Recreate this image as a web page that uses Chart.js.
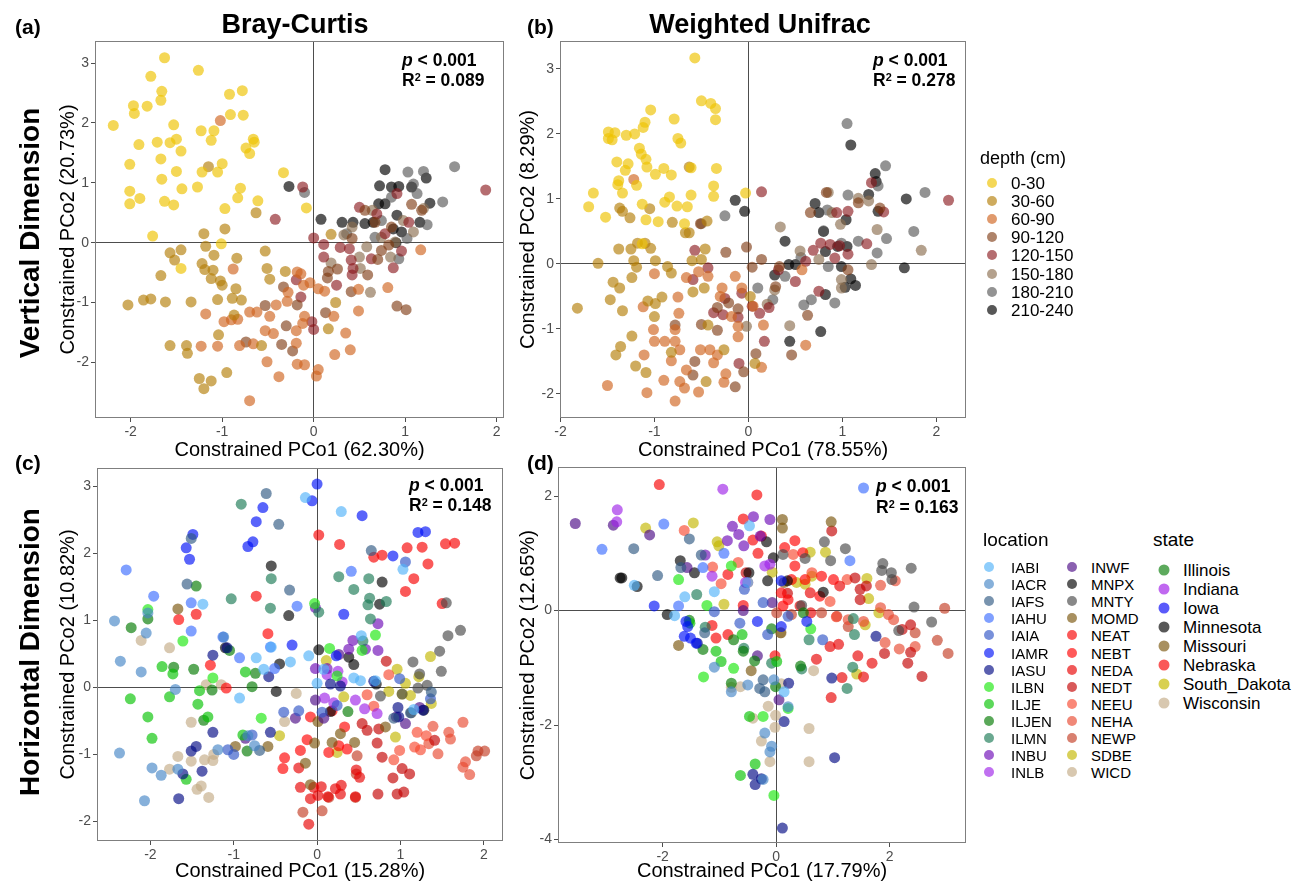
<!DOCTYPE html>
<html><head><meta charset="utf-8">
<script src="https://cdn.jsdelivr.net/npm/chart.js@4.4.1/dist/chart.umd.min.js"></script>
<style>
body{margin:0;width:1306px;height:885px;overflow:hidden;background:#fff;font-family:"Liberation Sans",Arial,sans-serif;position:relative;}
canvas{position:absolute;}
.t{position:absolute;white-space:nowrap;color:#000;line-height:1;}
.c{transform:translate(-50%,-50%);}
.l{transform:translateY(-50%);}
.r{transform:translate(-50%,-50%) rotate(-90deg);}
.b{font-weight:bold;}
.dot{position:absolute;border-radius:50%;transform:translate(-50%,-50%);}
sup{font-size:0.62em;vertical-align:0.5em;line-height:0;}
</style></head><body>
<canvas id="pa"></canvas><canvas id="pb"></canvas><canvas id="pc"></canvas><canvas id="pd"></canvas>
<div id="overlay"></div>
<script>
// ---------- categories ----------
const depthLevels = ['0-30','30-60','60-90','90-120','120-150','150-180','180-210','210-240'];
const depthColors = ['rgba(238,195,0,0.66)','rgba(180,128,10,0.66)','rgba(208,100,30,0.65)','rgba(125,55,15,0.62)','rgba(135,20,25,0.62)','rgba(140,110,80,0.65)','rgba(80,80,80,0.62)','rgba(0,0,0,0.66)'];
const locations = ['IABI','IACR','IAFS','IAHU','IAIA','IAMR','IASU','ILBN','ILJE','ILJEN','ILMN','INBU','INLB','INWF','MNPX','MNTY','MOMD','NEAT','NEBT','NEDA','NEDT','NEEU','NEHA','NEWP','SDBE','WICD'];
const locationBase = ['#52B2F9','#4586C6','#2F5983','#3C6DFF','#2F54C6','#0011F7','#010984','#1AE80D','#04C301','#017900','#1A7954','#6D0AB7','#9E23E8','#4B0A85','#000000','#484848','#79540A','#F70000','#FF0000','#E80000','#C30000','#F7482F','#E8482F','#C33C23','#C3B700','#C3AA85'];
const states = ['Illinois','Indiana','Iowa','Minnesota','Missouri','Nebraska','South_Dakota','Wisconsin'];
const stateColors = ['#5DAA5D','#C068F0','#5A5AFA','#585858','#A89060','#FA5858','#D8D050','#D8C8B0'];
const xTicksStep = [1,1,1,2];
const yTicksStep = [1,1,1,2];

// ---------- (a) Bray-Curtis, by depth ----------
const bc0_30 = [[-1.63,3.09],[-1.26,2.88],[-1.78,2.78],[-1.66,2.53],[-1.67,2.38],[-1.97,2.29],[-1.82,2.28],[-1.96,2.16],[-0.92,2.48],[-0.78,2.54],[-0.91,2.14],[-0.77,2.13],[-2.19,1.96],[-1.53,1.97],[-1.23,1.87],[-1.09,1.87],[-1.91,1.64],[-1.71,1.68],[-1.57,1.67],[-1.50,1.73],[-1.45,1.53],[-1.12,1.71],[-0.66,1.73],[-0.65,1.68],[-0.74,1.58],[-0.70,1.49],[-2.01,1.31],[-1.67,1.40],[-1.00,1.32],[-1.50,1.19],[-1.22,1.18],[-1.05,1.18],[-1.66,1.06],[-2.01,0.86],[-1.90,0.74],[-1.44,0.90],[-1.27,0.93],[-0.80,0.91],[-0.83,0.75],[-1.63,0.69],[-1.53,0.63],[-2.01,0.65],[-0.97,0.57],[-0.61,0.70],[-0.33,1.17],[-0.08,0.58],[-1.76,0.11],[-1.01,-0.02],[-1.45,-0.43]];
const bc30_60 = [[-1.15,1.27],[-0.63,0.50],[-1.20,0.15],[-0.97,0.23],[0.19,0.14],[-1.57,-0.17],[-1.45,-0.12],[-1.52,-0.29],[-1.18,-0.06],[-1.09,-0.21],[-0.84,-0.26],[-0.53,-0.14],[-1.22,-0.35],[-1.19,-0.45],[-1.10,-0.46],[-1.67,-0.55],[-1.12,-0.60],[-1.02,-0.64],[-1.00,-0.71],[-0.85,-0.77],[-0.51,-0.43],[-0.48,-0.61],[-0.31,-0.48],[-2.03,-1.04],[-1.86,-0.96],[-1.78,-0.94],[-1.62,-0.99],[-1.34,-0.99],[-1.05,-0.95],[-0.89,-0.93],[-0.79,-0.96],[0.24,-1.00],[-1.04,-1.54],[-1.57,-1.72],[-1.39,-1.72],[-1.38,-1.85],[-0.57,-1.72],[-0.95,-2.17],[-1.25,-2.27],[-1.12,-2.31],[-1.20,-2.44],[0.16,-1.44],[-0.87,-1.21]];
const bc60_90 = [[-1.02,2.04],[-0.88,-0.44],[-1.18,-1.19],[-0.98,-1.32],[-0.90,-1.29],[-0.83,-1.28],[-0.70,-1.16],[-0.62,-1.16],[-0.48,-1.23],[-0.41,-1.04],[-0.29,-0.98],[-0.28,-0.83],[-0.18,-0.49],[-0.14,-0.52],[-0.11,-0.71],[-0.04,-0.67],[0.05,-0.77],[0.12,-0.81],[-0.53,-1.47],[-0.44,-1.52],[-0.19,-1.47],[-0.12,-1.35],[-0.10,-1.23],[0.22,-1.23],[0.49,-1.14],[0.49,-0.78],[0.81,-0.75],[0.35,-1.51],[0.40,-1.79],[0.23,-1.87],[-0.19,-1.68],[-0.66,-1.69],[-0.81,-1.72],[-1.05,-1.73],[-1.23,-1.73],[-0.51,-1.99],[-0.18,-2.03],[-0.10,-2.04],[0.05,-2.12],[0.03,-2.23],[-0.38,-2.24],[-0.70,-2.64],[1.17,-0.12]];
const bc90_120 = [[-0.53,-1.05],[-0.33,-0.74],[-0.30,-1.39],[-0.35,-1.70],[-0.23,-1.81],[-0.74,-1.66],[-0.18,-1.04],[0.13,-1.17],[0.41,-0.82],[0.59,-0.54],[0.16,-0.48],[0.15,-0.59],[0.26,-0.44],[0.70,-0.28],[0.74,-0.13],[0.91,-1.06],[1.01,-1.12],[0.82,-0.04],[1.18,0.54],[1.07,0.64],[0.56,0.54],[0.67,0.34],[0.42,0.07],[0.85,0.26]];
const bc120_150 = [[-0.12,0.93],[-0.42,0.39],[0.00,0.08],[0.11,-0.03],[0.11,-0.24],[0.29,-0.08],[0.39,-0.10],[0.41,-0.29],[0.43,-0.43],[0.42,-0.54],[0.25,-0.71],[-0.19,-0.62],[-0.14,-0.91],[-0.02,-1.32],[0.00,-1.45],[0.87,-0.42],[0.96,-0.14],[1.88,0.88],[0.50,0.59],[0.69,0.48],[0.78,0.15],[0.91,0.82],[0.63,-0.27],[1.04,0.34]];
const bc150_180 = [[0.19,-0.34],[0.33,0.13],[0.50,-0.24],[0.51,-0.43],[0.62,-0.83],[0.84,-0.24],[0.58,-0.07],[0.64,0.54],[0.74,0.09],[0.98,0.37],[1.20,0.57],[0.42,0.26],[0.89,0.01],[1.09,0.18]];
const bc180_210 = [[-0.10,0.84],[1.54,1.27],[1.20,1.19],[1.03,1.18],[1.41,0.68],[1.24,0.30],[0.93,-0.27],[0.67,0.09],[0.85,0.76],[1.09,0.98],[1.13,0.82],[1.02,0.07],[0.74,0.37],[0.36,0.15]];
const bc210_240 = [[-0.27,0.94],[0.08,0.39],[0.31,0.34],[0.43,0.34],[0.56,0.32],[0.78,1.22],[0.72,0.95],[0.85,0.93],[0.93,0.94],[0.78,0.65],[0.91,0.46],[0.96,0.18],[0.90,0.00],[1.23,1.08],[1.27,0.66],[1.16,0.34],[1.07,0.93],[0.71,0.65],[0.87,0.23],[0.65,0.34]];

// ---------- (b) Weighted Unifrac, by depth ----------
const wu0_30 = [[-0.57,3.17],[-0.50,2.51],[-0.40,2.47],[-0.35,2.39],[-0.35,2.22],[-1.04,2.37],[-0.79,2.23],[-1.10,2.18],[-1.12,2.10],[-1.49,2.03],[-1.42,2.02],[-1.49,1.93],[-1.45,1.91],[-1.30,1.98],[-1.21,2.00],[-0.75,1.93],[-0.72,1.86],[-1.16,1.78],[-1.14,1.69],[-1.09,1.61],[-1.40,1.57],[-1.28,1.54],[-1.31,1.44],[-1.08,1.49],[-0.99,1.38],[-0.90,1.47],[-0.82,1.37],[-0.61,1.48],[-0.34,1.47],[-1.38,1.28],[-1.39,1.22],[-1.19,1.21],[-1.65,1.09],[-1.34,1.09],[-0.84,1.03],[-0.89,0.95],[-0.61,1.06],[-0.37,1.20],[-0.37,1.04],[-1.70,0.88],[-1.13,0.92],[-0.76,0.89],[-0.65,0.88],[-1.52,0.72],[-1.09,0.68],[-0.96,0.65],[-0.68,0.62],[-0.03,1.09],[-1.13,0.31]];
const wu30_60 = [[-0.63,1.49],[-1.37,0.86],[-1.34,0.81],[-1.26,0.71],[-1.05,0.85],[-0.81,0.64],[-0.67,0.48],[-0.63,0.48],[-0.44,0.66],[-0.46,0.23],[-1.38,0.23],[-1.25,0.23],[-1.18,0.32],[-1.10,0.32],[-1.04,0.24],[-1.60,0.01],[-1.22,0.05],[-1.19,-0.05],[-0.99,0.05],[-0.86,-0.04],[-0.82,-0.14],[-0.60,0.05],[-0.50,0.07],[-1.24,-0.21],[-1.44,-0.28],[-1.37,-0.37],[-1.47,-0.55],[-1.34,-0.72],[-1.82,-0.68],[-1.00,-0.81],[-1.07,-0.57],[-0.99,-0.61],[-0.92,-0.51],[-0.59,-0.43],[-1.24,-1.11],[-1.36,-1.27],[-1.41,-1.40],[-0.82,-1.36],[-1.20,-1.57],[-1.09,-1.67],[-0.45,-1.81],[-0.26,-1.32],[0.07,-1.53],[-0.43,-0.94],[-0.47,-0.37],[0.02,-0.50]];
const wu60_90 = [[-1.22,1.30],[-1.00,-0.15],[-0.66,-0.21],[-0.53,-0.12],[-0.43,-0.19],[-0.14,-0.19],[-0.75,-0.51],[-1.12,-0.66],[-0.74,-0.76],[-0.28,-0.37],[-0.30,-0.50],[-0.18,-0.81],[-0.11,-0.96],[-0.11,-1.12],[-0.07,-0.37],[0.05,-0.65],[0.16,-0.94],[-1.01,-1.01],[-1.00,-1.19],[-0.89,-1.19],[-0.78,-1.19],[-0.78,-1.01],[-1.11,-1.40],[-0.82,-1.49],[-0.73,-1.32],[-0.51,-1.32],[-0.41,-1.32],[-0.33,-1.40],[-0.37,-1.52],[-0.66,-1.63],[-0.90,-1.79],[-0.73,-1.81],[-0.68,-1.91],[-0.53,-1.97],[-0.24,-1.69],[-0.26,-1.82],[-1.50,-1.87],[-1.08,-1.98],[-0.78,-2.11],[0.61,-1.25],[0.14,-1.59],[0.57,-0.09]];
const wu90_120 = [[-0.51,0.62],[-0.24,0.18],[-0.02,0.26],[0.04,-0.05],[0.14,0.07],[0.29,-0.35],[-0.33,-0.67],[-0.21,-0.60],[-0.11,-0.69],[-0.50,-0.93],[-0.33,-1.02],[-0.57,-1.50],[-0.59,-1.71],[-0.14,-1.89],[0.08,-1.38],[-0.05,-1.66],[0.63,-0.79],[0.46,-1.40],[0.33,-0.04],[0.83,1.10],[0.66,0.79],[1.06,-0.09],[1.17,0.94],[1.40,0.86],[-0.78,-0.94]];
const wu120_150 = [[0.14,1.11],[-0.57,0.21],[-0.43,-0.06],[-0.59,-0.24],[-0.25,-0.53],[-0.07,-0.45],[-0.37,-0.75],[-0.27,-0.78],[-0.11,-0.82],[0.04,-0.65],[0.12,-0.76],[0.17,-1.19],[-0.10,-1.53],[0.32,-0.09],[0.50,-0.27],[0.61,0.04],[0.69,0.21],[0.77,0.32],[0.87,0.30],[0.97,0.28],[1.06,0.15],[0.75,-0.42],[0.94,0.79],[1.06,0.81],[1.26,0.31],[1.44,0.80],[1.31,1.25],[2.13,0.98],[0.22,-0.67],[0.92,0.09]];
const wu150_180 = [[0.34,0.57],[0.55,0.20],[0.85,1.10],[0.98,0.61],[0.89,0.79],[1.17,1.01],[1.28,0.97],[1.37,0.53],[1.31,-0.01],[1.84,0.21],[0.99,-0.24],[0.99,-0.37],[0.75,0.07],[0.44,-0.95],[0.20,-0.62],[0.28,-0.40],[-0.50,0.62],[-0.02,-0.96]];
const wu180_210 = [[1.05,2.16],[1.46,1.51],[1.88,1.10],[1.76,0.50],[1.06,1.06],[0.84,0.83],[0.80,0.51],[1.17,0.35],[1.37,0.17],[1.47,0.39],[1.38,1.20],[-0.25,0.74],[0.10,-0.37],[0.26,-0.55],[0.39,-0.19],[0.59,-0.63],[0.67,-0.55],[0.92,-0.60],[0.85,-0.04],[0.99,0.32],[0.56,0.10]];
const wu210_240 = [[1.09,1.83],[1.35,1.39],[1.36,1.27],[1.28,1.07],[1.38,0.81],[1.68,1.00],[1.66,-0.06],[0.71,0.93],[0.75,0.79],[1.04,0.68],[0.80,0.50],[0.82,0.19],[0.95,0.27],[1.05,0.27],[1.09,-0.23],[1.14,-0.33],[1.03,-0.36],[0.99,-0.04],[0.39,0.35],[0.43,-0.01],[0.50,-0.01],[0.28,-0.17],[0.82,-0.47],[0.77,-1.04],[0.44,-1.19],[-0.14,0.98],[-0.04,0.81]];

// ---------- (c) Bray-Curtis, by location ----------
const c_IABI = [[-0.14,2.83],[0.29,2.62],[1.03,1.76],[-1.37,1.24],[-0.73,0.44],[-0.64,0.27],[-0.55,0.60],[-0.32,0.38],[-0.10,0.47],[0.00,0.06],[-0.93,-0.16],[0.44,0.14],[0.52,0.10],[0.53,0.77],[0.08,0.27],[0.70,0.10],[1.16,-0.33]];
const c_IACR = [[-2.43,0.99],[-2.36,0.39],[-2.05,0.81],[-2.03,1.11],[-2.11,0.23],[-1.70,-0.03],[-2.37,-0.98],[-1.98,-1.20],[-1.87,-1.31],[-2.07,-1.69],[-1.67,-1.22],[-1.19,-0.93],[-0.83,-0.72],[-0.75,-0.87],[-1.12,0.75]];
const c_IAFS = [[-0.61,2.89],[-0.46,2.43],[-1.51,2.22],[-1.56,1.54],[-0.33,1.45],[0.65,2.04],[-0.69,-0.94],[0.92,-0.46],[1.37,-0.07],[1.12,-0.38]];
const c_IAHU = [[0.41,1.73],[-1.51,1.26],[-1.96,1.36],[-2.29,1.75],[-1.51,0.84],[-1.13,0.75],[-0.93,0.44],[-0.51,0.28],[-0.24,1.21],[-0.56,0.60]];
const c_IAIA = [[-0.40,-0.37],[-0.22,-0.35],[-1.07,-0.93],[-1.00,-1.00],[0.99,0.13],[1.06,1.87],[1.36,-0.17],[0.06,-0.37],[0.24,-0.27],[-0.78,-0.71]];
const c_IAMR = [[0.00,3.03],[-0.06,2.78],[-0.65,2.68],[-0.73,2.47],[-0.83,2.10],[-0.77,2.17],[-1.49,2.28],[-1.57,2.08],[-1.53,1.91],[0.54,2.56],[1.21,2.31],[1.30,2.32],[0.91,1.96],[0.32,1.09],[-0.30,0.63],[0.23,0.47]];
const c_IASU = [[-1.25,0.48],[-0.58,0.16],[-1.08,0.59],[-1.25,-0.67],[-1.51,-0.95],[-1.45,-0.88],[-1.38,-1.25],[-1.61,-1.29],[-1.66,-1.66],[-0.56,-0.67],[0.16,0.05],[0.28,0.02],[0.97,-0.30],[0.98,-0.44],[1.27,-0.34],[0.68,0.09]];
const c_ILBN = [[-0.03,1.25],[0.15,0.58],[0.70,0.78],[0.54,0.55],[-1.61,0.69],[-1.25,0.14],[-0.67,-0.46],[0.24,0.17],[-2.03,1.16]];
const c_ILJE = [[-2.24,-0.17],[-2.03,-0.44],[-1.98,-0.76],[-1.77,-0.14],[-1.86,0.31],[-1.73,0.20],[-1.43,-0.25],[-1.41,-0.05],[-1.31,-0.44],[-0.86,0.23],[-1.57,-1.37],[-0.89,-0.71]];
const c_ILJEN = [[-2.23,0.89],[-2.03,1.02],[-1.72,0.30],[-1.48,0.27],[-1.26,-0.04],[-1.36,-0.49],[-1.05,0.55],[-0.74,0.21],[-0.78,0.01],[-0.84,-0.95],[0.37,-0.36],[-1.45,1.51]];
const c_ILMN = [[-0.91,2.73],[-0.55,1.62],[-0.56,1.18],[-1.03,1.32],[0.26,1.65],[0.44,1.46],[0.62,1.62],[0.63,1.33],[0.61,1.23],[0.64,1.02],[0.83,1.28],[0.02,1.12],[0.55,0.69]];
const c_INBU = [[-0.02,1.19],[0.73,0.95],[0.43,0.70],[0.38,0.57],[0.58,0.57],[0.73,0.55],[-0.02,0.28],[0.12,0.28]];
const c_INLB = [[0.12,0.19],[0.25,0.24],[0.30,0.08],[0.09,-0.16],[0.20,-0.23],[0.46,-0.19],[0.57,-0.32],[0.72,-0.39]];
const c_INWF = [[-0.02,-0.19],[0.08,-0.46],[0.95,-0.44],[1.06,-0.54],[1.23,-0.30],[-0.26,-0.46],[-0.86,-0.76],[0.26,0.49]];
const c_MNPX = [[-0.55,1.81],[-0.34,1.07],[-1.10,0.59],[-0.45,0.35],[-0.49,-0.06],[0.02,0.56],[0.38,0.45],[0.44,0.34],[0.78,1.57],[0.75,1.24],[0.71,0.05],[1.28,-0.34],[0.16,-0.36]];
const c_MNTY = [[1.55,1.26],[1.57,0.77],[1.72,0.85],[1.47,0.54],[1.49,0.24],[1.15,0.38],[1.23,0.20],[1.32,0.03],[1.21,-0.01],[1.02,-0.10],[0.76,-0.13],[1.13,-0.38]];
const c_MOMD = [[-1.67,1.17],[-0.98,-0.88],[-0.59,-0.88],[-0.03,-0.83],[0.18,-0.82],[0.28,-0.69],[0.45,-0.82],[0.01,-0.51],[-0.14,-1.13],[-0.08,-1.45],[0.82,-0.59]];
const c_NEAT = [[0.02,2.27],[0.27,2.13],[0.68,1.94],[0.78,1.97],[1.08,2.08],[1.26,2.09],[1.33,1.84],[1.16,1.62],[1.06,1.43],[1.50,1.25],[1.54,2.14],[1.65,2.15],[-0.73,1.36],[-1.45,1.09]];
const c_NEBT = [[-1.66,1.01],[-0.59,0.80],[-1.28,0.33],[-1.09,-0.01],[-0.08,-0.44],[0.18,-0.35],[0.33,-0.59],[0.36,-0.92],[0.26,-0.87],[0.14,-0.97],[-0.12,-0.78],[-0.20,-0.94],[-0.39,-1.05],[-0.41,-1.21]];
const c_NEDA = [[-0.22,-1.20],[-0.20,-1.49],[-0.04,-1.49],[0.05,-1.48],[0.01,-1.61],[0.13,-1.63],[0.22,-1.51],[0.29,-1.46],[0.28,-1.59],[-0.08,-1.66],[-0.10,-2.04],[0.46,-1.63],[0.47,-1.23],[0.51,-1.34]];
const c_NEDT = [[0.72,-0.83],[0.78,-1.04],[0.73,-1.59],[0.91,-1.35],[0.96,-1.59],[1.04,-1.56],[1.02,-1.21],[1.11,-1.29],[0.83,0.39],[0.74,-0.62],[0.54,-0.54],[0.60,-0.64],[1.41,-0.79]];
const c_NEEU = [[0.60,-0.11],[0.68,-0.28],[0.86,0.19],[0.99,-0.94],[0.92,-1.08],[1.20,-0.67],[1.31,-0.72],[1.17,-0.89],[1.24,-0.93]];
const c_NEHA = [[1.34,-0.84],[1.39,-0.58],[1.45,-0.99],[1.58,-0.67],[1.60,-0.77],[1.75,-0.52],[1.75,-1.19],[1.78,-1.11],[1.83,-1.30]];
const c_NEWP = [[1.91,-1.02],[1.93,-0.95],[2.01,-0.95],[0.48,-1.02],[0.46,-1.64],[0.14,-1.64],[0.06,-1.84],[-0.17,-1.86],[0.47,-1.29]];
const c_SDBE = [[0.11,0.40],[1.36,0.46],[0.96,0.27],[1.22,0.16],[0.86,-0.06],[1.06,0.06],[1.02,-0.10],[1.12,-0.12],[1.37,-0.24],[0.32,-0.14],[-0.45,-0.72],[0.24,-0.97],[0.94,-0.74]];
const c_WICD = [[-2.11,0.70],[-1.77,0.59],[-1.33,0.04],[-1.15,0.04],[-1.51,-0.52],[-0.39,-0.51],[-0.25,-0.09],[-1.67,-1.03],[-1.51,-1.10],[-1.35,-1.08],[-1.24,-1.00],[-1.25,-1.09],[-1.77,-1.22],[-1.44,-1.52],[-1.39,-1.47],[-1.30,-1.64]];

// ---------- (d) Weighted Unifrac, by location ----------
const d_IABI = [[-1.61,0.24],[-1.09,0.33],[-1.79,-0.09],[-0.47,1.48],[-0.50,0.49],[-2.50,0.44],[0.14,-1.42]];
const d_IACR = [[-1.09,-0.99],[-0.79,-1.42],[-0.50,-1.30],[-0.20,-2.14],[-0.08,-2.37],[-0.11,-2.47],[-0.23,-2.95],[0.21,-1.68],[-0.04,-1.21]];
const d_IAFS = [[-2.51,1.08],[-2.09,0.61],[-1.53,1.25],[-1.32,0.97],[-1.68,0.75],[-1.26,-0.39],[-0.23,-1.21],[-0.29,-1.36],[-0.20,-1.42]];
const d_IAHU = [[-3.07,1.07],[-1.98,1.51],[1.54,2.14],[1.30,0.87],[-0.92,1.00],[-1.29,0.75],[-1.72,0.08]];
const d_IAIA = [[-1.09,-0.02],[-0.64,-0.22],[-0.15,-0.42],[0.82,-0.51],[0.21,-0.10],[-0.23,0.14],[-0.56,0.37]];
const d_IAMR = [[-2.15,0.08],[-1.59,-0.19],[-1.56,-0.28],[-1.62,-0.45],[-1.51,-0.48],[-1.41,-0.57],[-0.33,-0.19],[0.09,-0.28],[0.54,-0.19],[0.09,0.52]];
const d_IASU = [[-1.39,-0.57],[0.14,-1.94],[0.22,-1.27],[0.98,-1.18],[1.76,-0.45],[1.03,-2.57],[-0.41,-2.86],[-0.26,-2.94],[-0.37,-3.04],[0.11,-3.80]];
const d_ILBN = [[-1.72,0.54],[-1.22,0.09],[-0.75,-1.01],[-1.28,-1.16],[-0.23,-1.85],[0.21,-1.71],[0.61,-0.32],[-0.79,0.78],[-0.04,-3.23]];
const d_ILJE = [[-1.06,-0.71],[-0.97,-0.89],[-0.47,-1.85],[-0.37,-2.68],[-0.63,-2.88],[0.01,-0.89],[-1.52,-0.22],[-0.60,-0.42]];
const d_ILJEN = [[-1.29,-0.68],[-1.53,-0.17],[-0.75,-0.51],[-0.58,-0.71],[-0.38,-0.88],[-0.79,-1.27],[-0.01,-1.33],[0.43,-0.97],[-0.08,-0.32],[0.48,-0.04]];
const d_ILMN = [[-1.40,0.28],[-1.25,-0.29],[-0.57,-0.66],[0.45,-1.02],[0.58,-0.51],[1.36,-0.14],[1.38,-0.42],[1.35,-0.99],[1.25,-1.36],[-0.08,-0.92]];
const d_INBU = [[-0.40,1.64],[-0.11,1.59],[-0.77,1.47],[-0.66,1.33],[-0.86,1.22],[-0.57,1.13],[-0.28,1.30],[-1.25,0.97]];
const d_INLB = [[-2.80,1.76],[-2.81,1.55],[-0.94,2.12],[-1.13,0.60],[-0.20,0.78],[-0.11,0.81],[-0.54,0.49]];
const d_INWF = [[-3.54,1.52],[-2.87,1.49],[-2.23,1.32],[-1.57,0.75],[-0.58,0.00],[-0.07,0.14],[-0.33,-0.79],[0.05,-1.56]];
const d_MNPX = [[-2.75,0.57],[-2.72,0.57],[-2.45,0.42],[-1.92,-0.07],[-1.69,0.87],[-1.44,0.66],[-0.48,0.66],[-0.17,1.20],[-0.05,0.92],[-0.15,0.52],[0.20,0.52],[0.83,0.32]];
const d_MNTY = [[0.12,0.98],[0.51,0.91],[0.85,1.20],[0.96,0.87],[1.22,1.08],[1.88,0.82],[1.86,0.70],[2.03,0.66],[2.04,0.54],[2.38,0.74],[2.43,0.06],[2.74,-0.20],[2.16,-0.35],[0.45,0.09]];
const d_MOMD = [[0.11,1.59],[0.11,1.44],[0.97,1.55],[-1.72,-0.61],[-0.44,-1.05],[0.14,0.49],[0.08,-0.39]];
const d_NEAT = [[-2.06,2.20],[-0.34,2.02],[-0.58,1.60],[-0.41,1.23],[-0.26,1.30],[-0.32,1.00],[-0.85,0.63],[-0.58,0.09],[-1.06,-0.48],[-1.13,-0.26],[-0.85,-0.42],[-0.02,-0.79]];
const d_NEBT = [[0.15,1.10],[0.33,1.22],[0.47,1.01],[0.33,0.78],[0.09,0.31],[0.21,0.19],[0.12,0.08],[0.27,0.54],[0.51,0.54],[0.77,0.25],[0.80,0.60],[1.01,0.54]];
const d_NEDA = [[1.12,0.43],[0.60,0.31],[0.61,-0.04],[0.42,0.08],[0.71,-0.85],[0.95,-0.63],[1.10,-0.59],[0.97,-1.52],[1.16,-1.17],[1.44,-0.79],[1.54,-1.16],[1.69,-0.92]];
const d_NEDT = [[1.91,-0.75],[2.32,-0.92],[2.37,-0.73],[2.57,-1.15],[2.37,-0.25],[2.22,-0.33],[1.48,0.19],[1.48,0.37],[1.59,0.43],[1.39,0.57],[-0.53,0.66],[0.98,1.39],[0.20,0.30]];
const d_NEEU = [[-1.62,1.40],[-1.12,0.76],[-0.97,0.47],[-0.67,0.84],[-0.50,0.49],[0.30,0.98],[0.63,0.66],[0.95,0.16],[1.06,-0.11],[1.25,0.54]];
const d_NEHA = [[1.27,-0.16],[1.54,-0.19],[1.84,0.44],[2.10,0.52],[1.84,0.05],[1.98,-0.07],[2.07,-0.16],[1.92,-0.56],[2.17,-0.67],[2.45,-0.63]];
const d_NEWP = [[2.84,-0.52],[3.03,-0.75],[2.97,0.04],[2.45,-0.39],[1.27,-0.28],[0.01,-0.04],[0.27,-0.07],[0.80,-0.04],[1.07,-0.10]];
const d_SDBE = [[-2.30,1.44],[-1.46,1.53],[-1.04,1.20],[-1.01,1.13],[-0.92,0.11],[0.60,1.02],[0.87,1.02],[-0.07,0.67],[0.36,0.49],[0.51,0.46],[0.63,0.60],[1.60,0.56],[1.63,0.21],[1.81,-0.04],[1.57,-0.25],[1.42,-1.11]];
const d_WICD = [[-0.79,-1.34],[-0.63,-1.33],[-0.41,-1.88],[-0.14,-1.67],[-0.01,-1.83],[-0.02,-2.04],[-0.26,-2.28],[-0.11,-2.64],[0.58,-2.06],[0.58,-2.64],[0.66,-1.05],[0.09,-1.28],[0.09,-0.39]];

const bcDepth = [bc0_30,bc30_60,bc60_90,bc90_120,bc120_150,bc150_180,bc180_210,bc210_240];
const wuDepth = [wu0_30,wu30_60,wu60_90,wu90_120,wu120_150,wu150_180,wu180_210,wu210_240];
const bcLoc = [c_IABI,c_IACR,c_IAFS,c_IAHU,c_IAIA,c_IAMR,c_IASU,c_ILBN,c_ILJE,c_ILJEN,c_ILMN,c_INBU,c_INLB,c_INWF,c_MNPX,c_MNTY,c_MOMD,c_NEAT,c_NEBT,c_NEDA,c_NEDT,c_NEEU,c_NEHA,c_NEWP,c_SDBE,c_WICD];
const wuLoc = [d_IABI,d_IACR,d_IAFS,d_IAHU,d_IAIA,d_IAMR,d_IASU,d_ILBN,d_ILJE,d_ILJEN,d_ILMN,d_INBU,d_INLB,d_INWF,d_MNPX,d_MNTY,d_MOMD,d_NEAT,d_NEBT,d_NEDA,d_NEDT,d_NEEU,d_NEHA,d_NEWP,d_SDBE,d_WICD];

const axisTitles = [
  ['Constrained PCo1 (62.30%)','Constrained PCo2 (20.73%)'],
  ['Constrained PCo1 (78.55%)','Constrained PCo2 (8.29%)'],
  ['Constrained PCo1 (15.28%)','Constrained PCo2 (10.82%)'],
  ['Constrained PCo1 (17.79%)','Constrained PCo2 (12.65%)']];
const stats = [['< 0.001','0.089'],['< 0.001','0.278'],['< 0.001','0.148'],['< 0.001','0.163']];

// ---------- rendering ----------
const FONT = '"Liberation Sans", Arial, sans-serif';
function hexA(h,a){const n=parseInt(h.slice(1),16);return `rgba(${n>>16&255},${n>>8&255},${n&255},${a})`;}
const locColors = locationBase.map(h=>hexA(h,0.65));
function mkDs(labels, groups, colors){
  return groups.map((g,i)=>({label:labels[i], data:g.map(p=>({x:p[0],y:p[1]})), backgroundColor:colors[i], borderWidth:0, pointRadius:5.5, pointHoverRadius:5.5}));
}
const frame = {id:'frame', afterDatasetsDraw(chart){const {ctx,chartArea:a}=chart;ctx.save();ctx.strokeStyle='#7f7f7f';ctx.lineWidth=1;ctx.strokeRect(Math.round(a.left)+0.5,Math.round(a.top)+0.5,Math.round(a.right-a.left)-1,Math.round(a.bottom-a.top)-1);ctx.restore();}};

function panel(id, box, area, xr, yr, idx, yTitleX, xTitleY, datasets){
  const cv=document.getElementById(id);
  cv.width=box.w; cv.height=box.h; cv.style.left=box.l+'px'; cv.style.top=box.t+'px';
  const TS=20, Wy=area.l-box.l, Hx=box.t+box.h-area.b, lh=TS*1.2;
  const tickCfg=(step)=>({stepSize:step, includeBounds:false, color:'#4d4d4d', font:{size:14,family:FONT}, padding:2, maxRotation:0, autoSkip:false, callback:v=>String(Math.round(v))});
  const gridCfg={color:c=>(c.tick&&Math.abs(c.tick.value)<1e-9)?'#4d4d4d':'rgba(0,0,0,0)', tickColor:'#4d4d4d', tickLength:4, drawTicks:true, lineWidth:1};
  new Chart(cv,{type:'scatter',data:{datasets},options:{
    responsive:false, animation:false, devicePixelRatio:1,
    layout:{padding:{top:area.t-box.t,right:box.l+box.w-area.r,bottom:0,left:0}},
    plugins:{legend:{display:false},tooltip:{enabled:false}},
    scales:{
      x:{type:'linear',position:'bottom',min:xr[0],max:xr[1],afterFit(s){s.height=Hx;},ticks:tickCfg(xTicksStep[idx]),grid:gridCfg,border:{display:false},
         title:{display:true,text:axisTitles[idx][0],color:'#000',font:{size:TS,family:FONT},padding:{top:0,bottom:box.t+box.h-xTitleY-lh/2}}},
      y:{type:'linear',position:'left',min:yr[0],max:yr[1],afterFit(s){s.width=Wy;},ticks:tickCfg(yTicksStep[idx]),grid:gridCfg,border:{display:false},
         title:{display:true,text:axisTitles[idx][1],color:'#000',font:{size:TS,family:FONT},padding:{top:yTitleX-box.l-lh/2,bottom:0}}}
    }}, plugins:[frame]});
}

panel('pa',{l:40,t:30,w:482,h:440},{l:95,t:41,r:504,b:418},[-2.39,2.08],[-2.93,3.37],0,68,450,mkDs(depthLevels,bcDepth,depthColors));
panel('pb',{l:500,t:30,w:482,h:440},{l:560,t:41,r:966,b:418},[-2.005,2.316],[-2.37,3.43],1,528,450,mkDs(depthLevels,wuDepth,depthColors));
panel('pc',{l:40,t:457,w:482,h:428},{l:97,t:468,r:503,b:841},[-2.64,2.23],[-2.29,3.27],2,68,871,mkDs(locations,bcLoc,locColors));
panel('pd',{l:500,t:457,w:482,h:428},{l:558,t:467,r:966,b:843},[-3.845,3.346],[-4.06,2.50],3,528,871,mkDs(locations,wuLoc,locColors));

// ---------- text overlays & legends ----------
const ov=document.getElementById('overlay');
function txt(html,x,y,cls,size){const d=document.createElement('div');d.className='t '+cls;d.style.left=x+'px';d.style.top=y+'px';d.style.fontSize=size+'px';d.innerHTML=html;ov.appendChild(d);}
function dot(x,y,s,c){const d=document.createElement('div');d.className='dot';d.style.left=x+'px';d.style.top=y+'px';d.style.width=s+'px';d.style.height=s+'px';d.style.background=c;ov.appendChild(d);}

txt('(a)',15,26,'l b',21); txt('(b)',527,26,'l b',21);
txt('(c)',15,462,'l b',21); txt('(d)',527,462,'l b',21);
txt('Bray-Curtis',295,24,'c b',27); txt('Weighted Unifrac',760,24,'c b',27);
txt('Vertical Dimension',30,233,'r b',28); txt('Horizontal Dimension',30,652,'r b',28);

const statPos=[[402,61,81],[873,61,81],[409,486,506],[876,487,508]];
statPos.forEach((p,i)=>{
  txt('<i>p</i> '+stats[i][0],p[0],p[1],'l b',17.5);
  txt('R<sup>2</sup> = '+stats[i][1],p[0],p[2],'l b',17.5);
});

// depth legend
txt('depth (cm)',980,158,'l',18);
depthLevels.forEach((lv,i)=>{const y=183+i*18.1;dot(992,y,10,depthColors[i]);txt(lv,1011,y,'l',17);});
// location legend
txt('location',983,539,'l',19);
locations.forEach((lc,i)=>{const col=i<13?0:1,row=i%13,y=567+row*17.1;const dx=col?1072:989,tx=col?1091:1011;dot(dx,y,10,locColors[i]);txt(lc,tx,y,'l',15);});
// state legend
txt('state',1153,539,'l',19);
states.forEach((s,i)=>{const y=570+i*19;dot(1164,y,11,stateColors[i]);txt(s,1183,y,'l',17);});
</script>
</body></html>
